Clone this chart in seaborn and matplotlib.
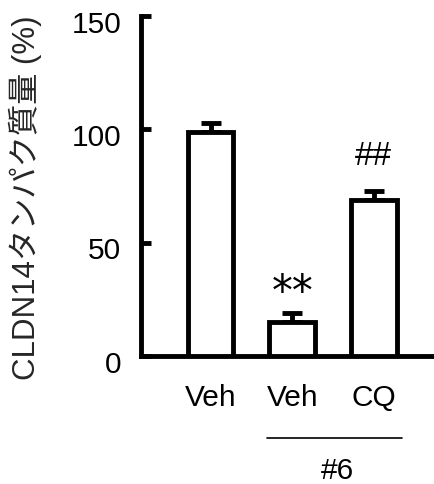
import matplotlib
matplotlib.use("Agg")
import matplotlib.pyplot as plt
import matplotlib.transforms as mtransforms
import seaborn as sns
import numpy as np
import pandas as pd

# Data
groups = ["Veh (ctrl)", "Veh (#6)", "CQ (#6)"]
tick_labels = ["Veh", "Veh", "CQ"]
means = [99, 15, 69]
sems = [4, 4, 4]
marks = ["", "**", "##"]
mark_y = [0, 28, 88]
ylabel = "CLDN14タンパク質量 (%)"
group_label = "#6"
yticks = [0, 50, 100, 150]

sns.set_theme(style="white")
plt.rcParams['font.family'] = ['Liberation Sans', 'Noto Sans CJK JP', 'DejaVu Sans']

df = pd.DataFrame({"group": groups, "value": means})

fig = plt.figure(figsize=(4.35, 4.84), dpi=100)
ax = fig.add_axes([140.5/435, 128/484, 1 - 140.5/435, 340/484])

lw = 3.5
sns.barplot(data=df, x="group", y="value", order=groups, color="white",
            edgecolor="black", linewidth=lw, width=0.56, errorbar=None,
            saturation=1, ax=ax, zorder=3)
ax.errorbar(x=np.arange(len(groups)), y=means,
            yerr=[np.zeros(len(groups)), sems], fmt="none", ecolor="black",
            elinewidth=lw, capsize=7.5, capthick=lw, zorder=2)

ax.set_ylim(0, 150)
ax.set_xlim(-0.86, 2.75)
ax.set_yticks(yticks)
ax.set_yticklabels([str(v) for v in yticks])
ax.set_xticks(range(len(groups)))
ax.set_xticklabels(tick_labels)
ax.set_xlabel("")
ax.set_ylabel(ylabel, fontsize=22.5)
ax.yaxis.set_label_coords(-0.335, 0.465)

for s in ["top", "right"]:
    ax.spines[s].set_visible(False)
for s in ["left", "bottom"]:
    ax.spines[s].set_linewidth(lw)
    ax.spines[s].set_color("black")

ax.tick_params(axis="y", direction="in", length=7, width=lw, pad=14,
               labelsize=21.5, colors="black", left=True)
ax.tick_params(axis="x", length=0, pad=20, labelsize=21.5, colors="black")

shift = mtransforms.ScaledTranslation(0, -4/72, fig.dpi_scale_trans)
for lab in ax.get_yticklabels():
    lab.set_transform(lab.get_transform() + shift)

for i, (m, yy) in enumerate(zip(marks, mark_y)):
    if m == "**":
        ax.text(i, yy, m, ha="center", va="center", fontsize=30,
                family="DejaVu Sans", color="black")
    elif m:
        ax.text(i, yy, m, ha="center", va="center", fontsize=24, color="black")

trans = ax.get_xaxis_transform()
ax.plot([0.69, 2.35], [-0.241, -0.241], color="black", lw=1.2,
        transform=trans, clip_on=False)
ax.text(1.56, -0.338, group_label, ha="center", va="center", fontsize=21.5,
        transform=trans, color="black")

fig.savefig("out.png", dpi=100)
